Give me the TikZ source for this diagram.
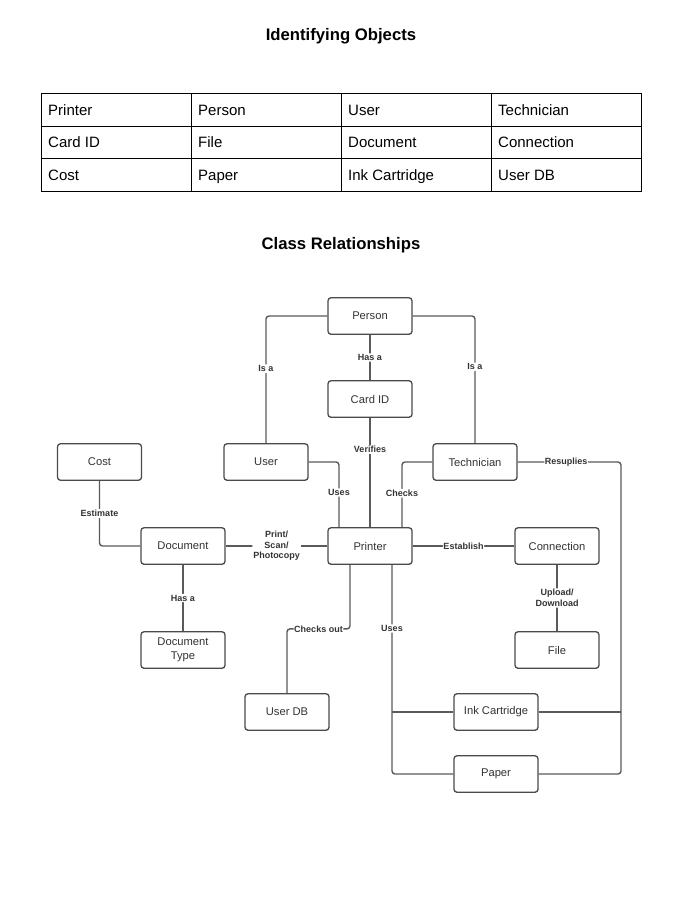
\documentclass[tikz,border=0pt]{standalone}
\usepackage{fontspec}
\setmainfont{Liberation Sans}
\usetikzlibrary{calc}
\definecolor{boxline}{HTML}{4A4A4A}
\definecolor{conline}{HTML}{5A5A5A}
\definecolor{boxtext}{HTML}{333333}
\tikzset{
  titletext/.style={font=\bfseries\fontsize{16.7}{19}\selectfont, text=black},
  celltext/.style={anchor=base west, font=\fontsize{15}{17}\selectfont, text=black, inner sep=0pt},
  objbox/.style={draw=boxline, line width=1.3pt, rounded corners=3pt, minimum width=84pt, minimum height=36.5pt, align=center, font=\fontsize{11.2}{14}\selectfont, text=boxtext, inner sep=1pt},
  conn/.style={draw=conline, line width=1.4pt, rounded corners=3pt},
  lbl/.style={fill=white, inner sep=1pt, align=center, font=\bfseries\fontsize{9}{10.5}\selectfont, text=boxtext}
}
\begin{document}
\begin{tikzpicture}[x=1pt,y=-1pt]
\useasboundingbox[fill=white] (0,0) rectangle (687,898);

% Titles
\node[titletext] (t1) at (341,36) {Identifying Objects};
\node[titletext] (t2) at (341,245) {Class Relationships};

% Table
\draw[line width=1pt, black] (41,93) rectangle (641,191);
\draw[line width=1pt, black] (41,126) -- (641,126) (41,158) -- (641,158)
  (191,93) -- (191,191) (341,93) -- (341,191) (491,93) -- (491,191);
\node[celltext] (c11) at (48,115) {Printer};
\node[celltext] (c12) at (198,115) {Person};
\node[celltext] (c13) at (348,115) {User};
\node[celltext] (c14) at (498,115) {Technician};
\node[celltext] (c21) at (48,147.5) {Card ID};
\node[celltext] (c22) at (198,147.5) {File};
\node[celltext] (c23) at (348,147.5) {Document};
\node[celltext] (c24) at (498,147.5) {Connection};
\node[celltext] (c31) at (48,180) {Cost};
\node[celltext] (c32) at (198,180) {Paper};
\node[celltext] (c33) at (348,180) {Ink Cartridge};
\node[celltext] (c34) at (498,180) {User DB};

% Diagram nodes
\node[objbox] (person) at (370,316) {Person};
\node[objbox] (card) at (370,399) {Card ID};
\node[objbox] (user) at (266,462) {User};
\node[objbox] (tech) at (475,462) {Technician};
\node[objbox] (cost) at (99.5,462) {Cost};
\node[objbox] (doc) at (183,546) {Document};
\node[objbox] (printer) at (370,546) {Printer};
\node[objbox] (connection) at (557,546) {Connection};
\node[objbox] (doctype) at (183,650) {Document\\Type};
\node[objbox] (file) at (557,650) {File};
\node[objbox] (userdb) at (287,712) {User DB};
\node[objbox] (ink) at (496,712) {Ink Cartridge};
\node[objbox] (paper) at (496,774) {Paper};
\coordinate (rs) at (621,462);

% Connectors
\draw[conn] (person.west) -| node[lbl,pos=0.707]{Is a} (user.north);
\draw[conn] (person.east) -| node[lbl,pos=0.70]{Is a} (tech.north);
\draw[conn] (person.south) -- node[lbl]{Has a} (card.north);
\draw[conn] (card.south) -- node[lbl,pos=0.29]{Verifies} (printer.north);
\draw[conn] (user.east) -| node[lbl,pos=0.735]{Uses} ([xshift=-31pt]printer.north);
\draw[conn] (tech.west) -| node[lbl,pos=0.74]{Checks} ([xshift=32pt]printer.north);
\draw[conn] (cost.south) |- node[lbl,pos=0.25]{Estimate} (doc.west);
\draw[conn] (doc.east) -- node[lbl]{Print/\\Scan/\\Photocopy} (printer.west);
\draw[conn] (doc.south) -- node[lbl]{Has a} (doctype.north);
\draw[conn] (printer.east) -- node[lbl,inner sep=0.5pt]{Establish} (connection.west);
\draw[conn] (connection.south) -- node[lbl]{Upload/\\Download} (file.north);
\draw[conn] ([xshift=-20pt]printer.south) -- ++(0,64) -| node[lbl,pos=0.25,inner sep=0.5pt]{Checks out} (userdb.north);
\draw[conn] ([xshift=22pt]printer.south) |- node[lbl,pos=0.152]{Uses} (paper.west);
\draw[conn] ([xshift=22pt]printer.south |- ink.west) -- (ink.west);
\draw[conn] (tech.east) -- node[lbl,pos=0.47,inner sep=0.5pt]{Resuplies} (rs) |- (paper.east);
\draw[conn] (ink.east) -- (ink.east -| rs);
\end{tikzpicture}
\end{document}
